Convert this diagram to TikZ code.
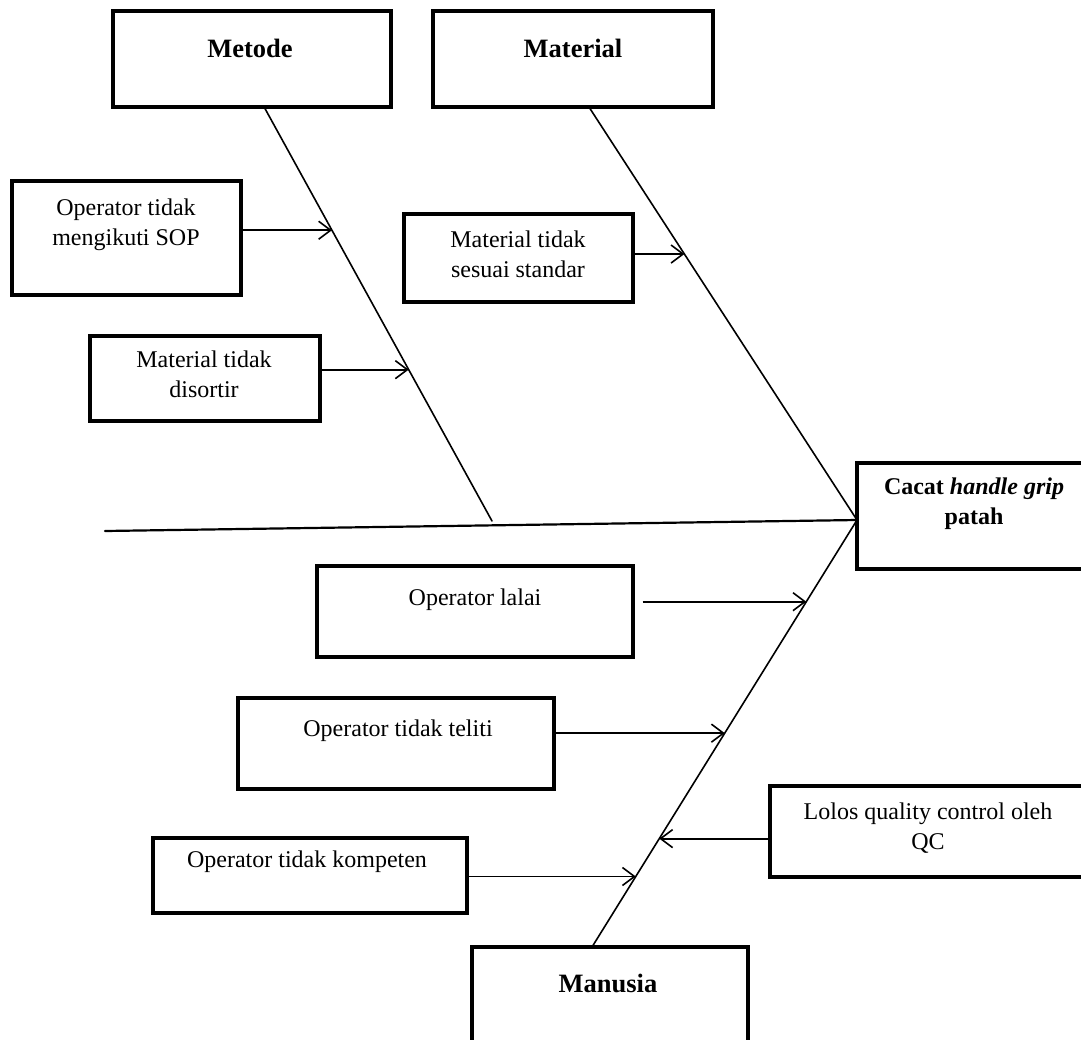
\documentclass[tikz,border=0pt]{standalone}
\usepackage{fontspec}
\setmainfont{Liberation Serif}
\usetikzlibrary{arrows.meta}
\begin{document}
\begin{tikzpicture}[x=1pt,y=-1pt,
  box/.style={draw, line width=3.2pt, rectangle, inner sep=0pt},
  lbl/.style={align=center, inner sep=0pt, font=\fontsize{24}{30}\selectfont},
  hlbl/.style={lbl, font=\fontsize{24}{30}\selectfont\bfseries},
  catlbl/.style={lbl, font=\fontsize{26.5}{30}\selectfont\bfseries},
  bone/.style={line width=1.6pt, line cap=round},
  arr/.style={line width=1.8pt, -{Straight Barb[length=12pt,width=18pt,line width=1.6pt]}}
]
\useasboundingbox (0,0) rectangle (1081,1039);

% category and cause boxes
\node[box, minimum width=278, minimum height=96] (metode) at (252,59) {};
\node[box, minimum width=280, minimum height=96] (material) at (573,59) {};
\node[box, minimum width=229, minimum height=114] (sop) at (126.5,238) {};
\node[box, minimum width=229, minimum height=88] (standar) at (518.5,258) {};
\node[box, minimum width=230, minimum height=85] (disortir) at (205,378.5) {};
\node[box, minimum width=243, minimum height=106] (cacat) at (978.5,516) {};
\node[box, minimum width=316, minimum height=91] (lalai) at (475,611.5) {};
\node[box, minimum width=316, minimum height=91] (teliti) at (396,743.5) {};
\node[box, minimum width=325, minimum height=91] (lolos) at (932.5,831.5) {};
\node[box, minimum width=314, minimum height=75] (kompeten) at (310,875.5) {};
\node[box, minimum width=276, minimum height=113] (manusia) at (610,1003.5) {};

% texts
\node[catlbl] (tmetode) at (250,48) {Metode};
\node[catlbl] (tmaterial) at (573,48) {Material};
\node[lbl] (tsop) at (126,225) {Operator tidak\\mengikuti SOP};
\node[lbl] (tstandar) at (518,254) {Material tidak\\sesuai standar};
\node[lbl] (tdisortir) at (204,374) {Material tidak\\disortir};
\node[hlbl] (tcacat) at (974,504) {Cacat \textit{handle grip}\\patah};
\node[lbl] (tlalai) at (475,600) {Operator lalai};
\node[lbl] (tteliti) at (398,731) {Operator tidak teliti};
\node[lbl] (tlolos) at (928,828) {Lolos quality control oleh\\QC};
\node[lbl] (tkompeten) at (307,862) {Operator tidak kompeten};
\node[catlbl] (tmanusia) at (608,983) {Manusia};

% spine and bones
\coordinate (head) at (857,520);
\coordinate (tail) at (105,531);
\coordinate (mjoin) at (492,521);
\draw[bone, line width=2.2pt] (tail) -- (head);
\draw[bone] ([xshift=13pt]metode.south) -- (mjoin)
  coordinate[pos=0.295] (p1) coordinate[pos=0.633] (p2);
\draw[bone] ([xshift=17pt]material.south) -- (head)
  coordinate[pos=0.3535] (p3);
\draw[bone] (head) -- ([xshift=-17pt]manusia.north)
  coordinate[pos=0.192] (p4) coordinate[pos=0.501] (p5)
  coordinate[pos=0.749] (p6) coordinate[pos=0.838] (p7);

% cause arrows
\draw[arr] (sop.east |- p1) -- (p1);
\draw[arr] (disortir.east |- p2) -- (p2);
\draw[arr] (standar.east |- p3) -- (p3);
\draw[arr] ([xshift=8pt]lalai.east |- p4) -- (p4);
\draw[arr] (teliti.east |- p5) -- (p5);
\draw[arr] (lolos.west |- p6) -- (p6);
\draw[arr] (kompeten.east |- p7) -- (p7);
\end{tikzpicture}
\end{document}
